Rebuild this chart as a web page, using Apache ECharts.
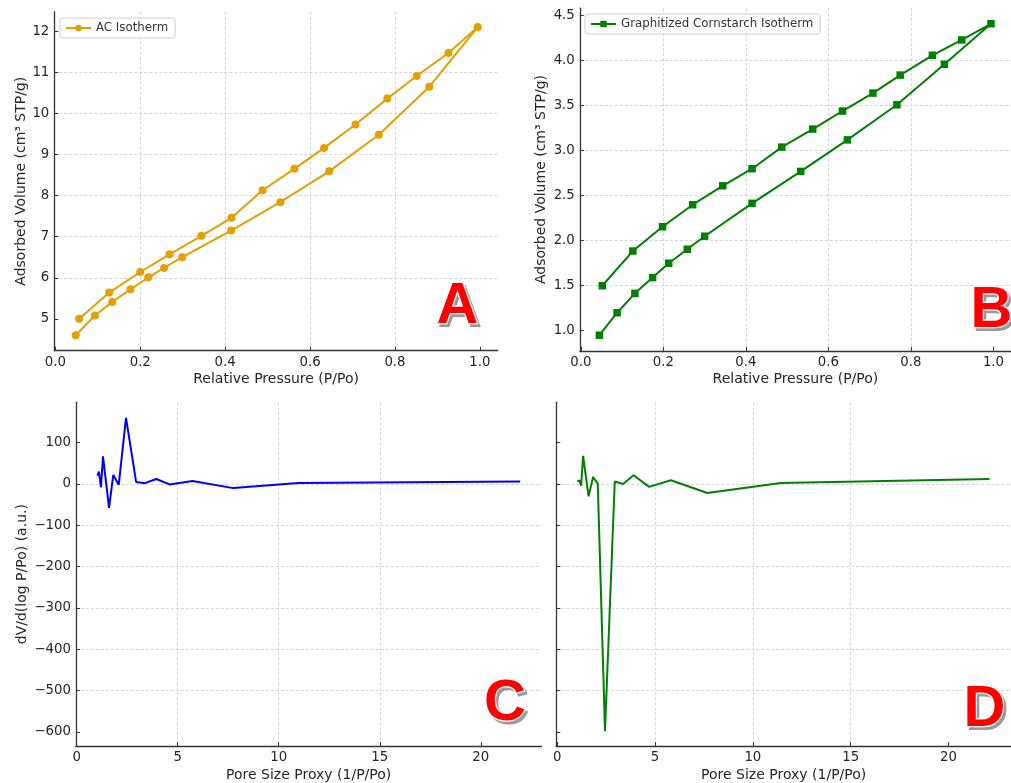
<!DOCTYPE html>
<html>
<head>
<meta charset="utf-8">
<script src="https://cdn.jsdelivr.net/npm/echarts@6/dist/echarts.min.js"></script>
<style>
html,body{margin:0;padding:0;background:#fff;}
#chart{width:1011px;height:783px;}
</style>
</head>
<body>
<div id="chart"></div>
<script>
// ---- Data ----
// Panel A: AC isotherm (adsorption branch, then desorption branch)
const acAdsP = [0.048, 0.093, 0.134, 0.177, 0.219, 0.256, 0.299, 0.414, 0.530, 0.645, 0.762, 0.881, 0.995];
const acAdsV = [4.60, 5.08, 5.41, 5.72, 6.01, 6.24, 6.50, 7.15, 7.84, 8.59, 9.48, 10.65, 12.10];
const acDesP = [0.926, 0.851, 0.782, 0.707, 0.633, 0.563, 0.488, 0.415, 0.344, 0.269, 0.200, 0.127, 0.056];
const acDesV = [11.47, 10.91, 10.36, 9.73, 9.16, 8.65, 8.13, 7.46, 7.02, 6.57, 6.14, 5.64, 5.00];
// Panel B: graphitized cornstarch isotherm
const gcAdsP = [0.045, 0.088, 0.131, 0.174, 0.213, 0.258, 0.300, 0.415, 0.533, 0.646, 0.766, 0.881, 0.994];
const gcAdsV = [0.95, 1.20, 1.415, 1.59, 1.75, 1.905, 2.05, 2.415, 2.77, 3.12, 3.51, 3.96, 4.41];
const gcDesP = [0.923, 0.852, 0.774, 0.708, 0.634, 0.562, 0.487, 0.415, 0.344, 0.271, 0.198, 0.126, 0.052];
const gcDesV = [4.23, 4.06, 3.84, 3.64, 3.44, 3.24, 3.04, 2.80, 2.61, 2.40, 2.155, 1.885, 1.50];
// Panel C: AC pore size distribution proxy
const acPsdX = [1.02, 1.10, 1.20, 1.30, 1.60, 1.81, 2.08, 2.44, 2.94, 3.38, 3.94, 4.59, 5.73, 7.75, 10.97, 21.95];
const acPsdY = [20, 30, -8, 67, -58, 22, -2, 160, 5, 2, 12, -1, 7, -10, 2.5, 6.3];
// Panel D: graphitized cornstarch pore size distribution proxy
const gcPsdX = [1.02, 1.13, 1.22, 1.32, 1.60, 1.83, 2.07, 2.44, 2.94, 3.37, 3.90, 4.70, 5.81, 7.67, 11.43, 22.1];
const gcPsdY = [6, 9, -4, 68, -30, 17, 1, -598, 6, 0, 21, -7, 9, -22, 2.4, 12];
// Tick labels
const pressureTicks = [0, 0.2, 0.4, 0.6, 0.8, 1.0];
const acVolumeTicks = [5, 6, 7, 8, 9, 10, 11, 12];
const gcVolumeTicks = [1.0, 1.5, 2.0, 2.5, 3.0, 3.5, 4.0, 4.5];
const poreTicks = [0, 5, 10, 15, 20];
const psdTicks = [-600, -500, -400, -300, -200, -100, 0, 100];
const panelLetters = ['A', 'B', 'C', 'D'];

// ---- Build ----
function pairs(xs, ys) { return xs.map((x, i) => [x, ys[i]]); }
const acLine = pairs(acAdsP, acAdsV).concat(pairs(acDesP, acDesV));
const gcLine = pairs(gcAdsP, gcAdsV).concat(pairs(gcDesP, gcDesV));

const TXT = '#262626';
const FONT = 'DejaVu Sans';
const minus = v => (v < 0 ? '\u2212' + Math.abs(v) : String(v));

function xAxis(gridIndex, min, max, ticks, fmt, name) {
  return {
    type: 'value', gridIndex, min, max, splitNumber: 5,
    name, nameLocation: 'middle', nameGap: 22,
    nameTextStyle: { color: TXT, fontSize: 14, fontFamily: FONT },
    axisLine: { show: true, onZero: false, lineStyle: { color: '#333', width: 1.3 } },
    axisTick: { show: true, inside: true, length: 4, customValues: ticks, lineStyle: { color: '#333' } },
    axisLabel: { show: true, customValues: ticks, formatter: fmt, color: TXT, fontSize: 13.3, fontFamily: FONT, margin: 5 },
    splitLine: { show: true, showMinLine: false, showMaxLine: false, lineStyle: { color: '#d0d0d0', type: [3, 2], width: 0.9 } }
  };
}
function yAxis(gridIndex, min, max, ticks, fmt, name, nameGap, showLabels, splitNumber) {
  return {
    type: 'value', gridIndex, min, max, splitNumber,
    name, nameLocation: 'middle', nameGap,
    nameTextStyle: { color: TXT, fontSize: 14, fontFamily: FONT },
    axisLine: { show: true, onZero: false, lineStyle: { color: '#333', width: 1.3 } },
    axisTick: { show: true, inside: true, length: 4, customValues: ticks, lineStyle: { color: '#333' } },
    axisLabel: { show: showLabels, customValues: ticks, formatter: fmt, color: TXT, fontSize: 13.3, fontFamily: FONT, margin: 5 },
    splitLine: { show: true, showMinLine: false, showMaxLine: false, lineStyle: { color: '#d0d0d0', type: [3, 2], width: 0.9 } }
  };
}

const f1 = v => v.toFixed(1);
const legendBase = {
  orient: 'vertical', itemWidth: 25, itemHeight: 8,
  backgroundColor: 'rgba(255,255,255,0.85)', borderColor: '#cfcfcf', borderWidth: 1, borderRadius: 3,
  padding: [4, 7, 4, 5],
  textStyle: { color: '#333', fontSize: 11.8, fontFamily: FONT }
};

function letter(ch, cx, cy) {
  const base = { text: ch, font: 'bold 58px "Liberation Sans", Arial, sans-serif', textAlign: 'center', textVerticalAlign: 'middle' };
  return [
    { type: 'text', x: cx + 2.5, y: cy + 2.5, z: 100, silent: true,
      style: Object.assign({}, base, { fill: '#9a9a9a', stroke: '#9a9a9a', lineWidth: 2 }) },
    { type: 'text', x: cx, y: cy, z: 101, silent: true,
      style: Object.assign({}, base, { fill: '#ff0000', stroke: '#ffffff', lineWidth: 2.5 }) }
  ];
}

const option = {
  animation: false,
  backgroundColor: '#ffffff',
  grid: [
    { left: 54.3, top: 11.7, width: 443.6, height: 339 },
    { left: 579.8, top: 8.2, width: 441.5, height: 342.6 },
    { left: 75.9, top: 402.3, width: 465.5, height: 345 },
    { left: 556.3, top: 402.3, width: 465, height: 345 }
  ],
  xAxis: [
    xAxis(0, -0.0025, 1.0425, pressureTicks, f1, 'Relative Pressure (P/Po)'),
    xAxis(1, -0.0025, 1.0425, pressureTicks, f1, 'Relative Pressure (P/Po)'),
    xAxis(2, -0.04, 23.0, poreTicks, v => String(v), 'Pore Size Proxy (1/P/Po)'),
    xAxis(3, -0.05, 23.2, poreTicks, v => String(v), 'Pore Size Proxy (1/P/Po)')
  ],
  yAxis: [
    yAxis(0, 4.225, 12.475, acVolumeTicks, v => String(v), 'Adsorbed Volume (cm³ STP/g)', 26, true, 8),
    yAxis(1, 0.777, 4.583, gcVolumeTicks, f1, 'Adsorbed Volume (cm³ STP/g)', 31, true, 8),
    yAxis(2, -634.5, 197.8, psdTicks, minus, 'dV/d(log P/Po) (a.u.)', 47, true, 8),
    yAxis(3, -634.5, 197.8, psdTicks, minus, '', 10, false, 8)
  ],
  legend: [
    Object.assign({}, legendBase, { data: ['AC Isotherm'], left: 60, top: 18 }),
    Object.assign({}, legendBase, { data: ['Graphitized Cornstarch Isotherm'], left: 585, top: 14 })
  ],
  series: [
    { name: 'AC Isotherm', type: 'line', xAxisIndex: 0, yAxisIndex: 0, data: acLine,
      symbol: 'circle', symbolSize: 8, color: '#E69F00',
      lineStyle: { width: 2, color: '#E69F00' }, itemStyle: { color: '#E69F00' } },
    { name: 'Graphitized Cornstarch Isotherm', type: 'line', xAxisIndex: 1, yAxisIndex: 1, data: gcLine,
      symbol: 'rect', symbolSize: 7.5, color: '#008000',
      lineStyle: { width: 2, color: '#008000' }, itemStyle: { color: '#008000' } },
    { name: 'AC PSD', type: 'line', xAxisIndex: 2, yAxisIndex: 2, data: pairs(acPsdX, acPsdY),
      showSymbol: false, symbol: 'none', lineStyle: { width: 2, color: '#0000ff' } },
    { name: 'GC PSD', type: 'line', xAxisIndex: 3, yAxisIndex: 3, data: pairs(gcPsdX, gcPsdY),
      showSymbol: false, symbol: 'none', lineStyle: { width: 2, color: '#008000' } }
  ],
  graphic: [].concat(
    letter(panelLetters[0], 457.5, 307),
    letter(panelLetters[1], 991.5, 311),
    letter(panelLetters[2], 505, 704),
    letter(panelLetters[3], 984.5, 710)
  )
};

const chart = echarts.init(document.getElementById('chart'), null, { renderer: 'canvas' });
chart.setOption(option);
</script>
</body>
</html>
